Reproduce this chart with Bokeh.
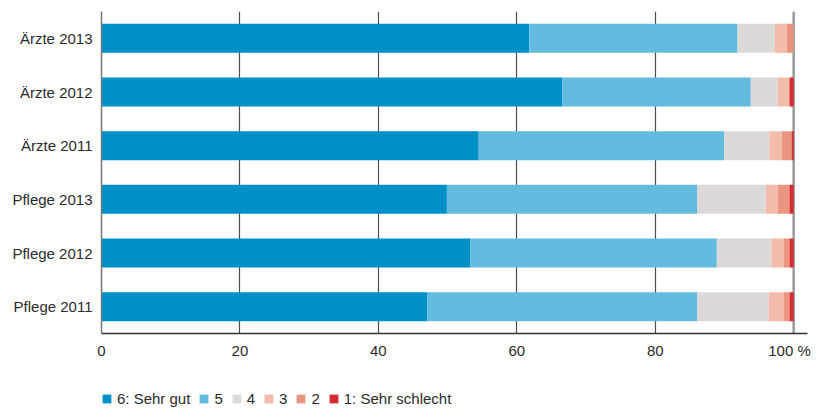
from bokeh.plotting import figure
from bokeh.layouts import column
from bokeh.models import (ColumnDataSource, FactorRange, Range1d, FixedTicker,
                          Span, Legend)
from bokeh.embed import file_html
from bokeh.resources import INLINE

# Zufriedenheit nach Berufsgruppe und Jahr (Anteile in %)
groups = ["Ärzte 2013", "Ärzte 2012", "Ärzte 2011",
          "Pflege 2013", "Pflege 2012", "Pflege 2011"]
sehr_gut = [61.8, 66.6, 54.5, 49.9, 53.3, 47.1]
note_5 = [30.1, 27.2, 35.5, 36.2, 35.6, 39.0]
note_4 = [5.4, 3.9, 6.5, 9.9, 7.9, 10.3]
note_3 = [1.7, 1.7, 1.8, 1.7, 1.8, 2.2]
note_2 = [1.0, 0.0, 1.4, 1.7, 0.8, 0.8]
sehr_schlecht = [0.0, 0.6, 0.3, 0.6, 0.6, 0.6]

legend_labels = ["6: Sehr gut", "5", "4", "3", "2", "1: Sehr schlecht"]
colors = ["#0090C7", "#63BBE0", "#DCD9D8", "#F3BCAA", "#EA9580", "#D52A30"]
x_ticks = [0, 20, 40, 60, 80, 100]
x_tick_labels = {100: "100 %\u00a0\u00a0"}
grid_ticks = [20, 40, 60, 80]

FONT = "Liberation Sans, Arial, sans-serif"
TEXT = "#2b2b2b"

keys = ["g6", "g5", "g4", "g3", "g2", "g1"]
source = ColumnDataSource(dict(
    group=groups, g6=sehr_gut, g5=note_5, g4=note_4,
    g3=note_3, g2=note_2, g1=sehr_schlecht,
))

p = figure(
    width=824, height=375,
    y_range=FactorRange(*reversed(groups)),
    x_range=Range1d(0, 102),
    output_backend="svg", toolbar_location=None,
    min_border_left=101, min_border_right=17,
    min_border_top=11, min_border_bottom=42,
    outline_line_color=None,
)

p.hbar_stack(keys, y="group", height=0.54, color=colors,
             line_color=None, source=source)

# x axis
p.xaxis.ticker = FixedTicker(ticks=x_ticks)
p.xaxis.major_label_overrides = x_tick_labels
p.xaxis.axis_line_color = "#333333"
p.xaxis.axis_line_width = 1.5
p.xaxis.major_tick_out = 0
p.xaxis.major_tick_in = 0
p.xaxis.minor_tick_out = 0
p.xaxis.minor_tick_in = 0
p.xaxis.major_label_standoff = 8
p.xaxis.major_label_text_font = FONT
p.xaxis.major_label_text_font_size = "15px"
p.xaxis.major_label_text_color = TEXT

# y axis
p.yaxis.axis_line_color = "#777777"
p.yaxis.axis_line_width = 1.5
p.yaxis.major_tick_out = 0
p.yaxis.major_tick_in = 0
p.yaxis.major_label_standoff = 9
p.yaxis.major_label_text_font = FONT
p.yaxis.major_label_text_font_size = "15px"
p.yaxis.major_label_text_color = TEXT

# grid
p.ygrid.grid_line_color = None
p.xgrid.ticker = FixedTicker(ticks=grid_ticks)
p.xgrid.grid_line_color = "#4d4d4d"
p.xgrid.grid_line_width = 1.2

p.add_layout(Span(location=100, dimension="height", line_color="#9a9a9a",
                  line_width=2.5, level="underlay"))

# legend strip below the chart; its zero-height stack only supplies the
# legend swatches
leg = figure(
    width=824, height=33,
    y_range=FactorRange(*reversed(groups)), x_range=Range1d(200, 300),
    x_axis_type=None, y_axis_type=None,
    output_backend="svg", toolbar_location=None,
    min_border=0, outline_line_color=None,
)
leg.grid.visible = False
swatches = leg.hbar_stack(keys, y="group", height=0, color=colors,
                          line_color=None, source=source)

legend = Legend(
    items=[(lab, [r]) for lab, r in zip(legend_labels, swatches)],
    orientation="horizontal", location=(0, 0),
    glyph_width=11, glyph_height=11, label_standoff=5, spacing=8,
    label_width=1,
    padding=0, margin=0, border_line_color=None, background_fill_alpha=0,
    label_text_font=FONT, label_text_font_size="15px",
    label_text_color=TEXT, label_height=20,
)
leg.add_layout(legend, "center")

open("out.html", "w").write(file_html(column(p, leg, spacing=0), INLINE))
